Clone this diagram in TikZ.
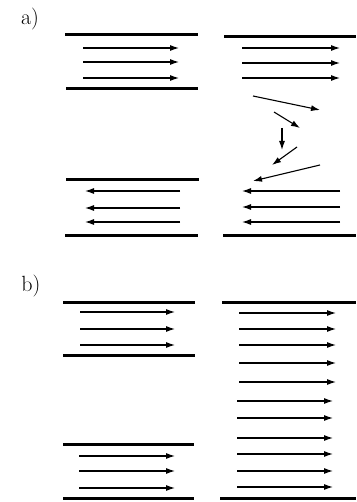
\documentclass[tikz,border=0pt]{standalone}
\usepackage{fontspec}
\usetikzlibrary{arrows.meta}
\begin{document}
\begin{tikzpicture}[x=1pt,y=-1pt,
  plate/.style={line width=3pt},
  flow/.style={line width=1.1pt,-{Latex[length=9pt,width=6pt]}},
  lbl/.style={font=\fontsize{22}{26}\selectfont,inner sep=0pt}]
\useasboundingbox (0,0) rectangle (356,502);
% labels
\node[lbl] (la) at (30,19) {a)};
\node[lbl] (lb) at (31,286) {b)};
% ---- a) left
\draw[plate] (65,35) -- (198,35);
\draw[plate] (66,89) -- (198,89);
\foreach \y in {48,62,78} \draw[flow] (83,\y) -- (179,\y);
\draw[plate] (66,180) -- (199,180);
\draw[plate] (65,235) -- (198,235);
\foreach \y in {191,208,222} \draw[flow] (180,\y) -- (85,\y);
% ---- a) right
\draw[plate] (224,37) -- (356,37);
\foreach \y in {48,63,78} \draw[flow] (242,\y) -- (340,\y);
\draw[flow] (253,96) -- (320,110);
\draw[flow] (274,112) -- (300,128);
\draw[flow] (282,128) -- (282,150);
\draw[flow] (297,147) -- (272,165);
\draw[flow] (320,165) -- (253,181);
\foreach \y in {191,207,222} \draw[flow] (340,\y) -- (242,\y);
\draw[plate] (223,235) -- (356,235);
% ---- b) left
\draw[plate] (63,302) -- (195,302);
\foreach \y in {312,329,345} \draw[flow] (80,\y) -- (175,\y);
\draw[plate] (63,355) -- (195,355);
\draw[plate] (63,444) -- (194,444);
\foreach \y in {456,471,488} \draw[flow] (79,\y) -- (175,\y);
\draw[plate] (63,498) -- (194,498);
% ---- b) right
\draw[plate] (222,302) -- (356,302);
\foreach \y in {313,329,345,363,382} \draw[flow] (239,\y) -- (336,\y);
\foreach \y in {401,418,438,454,471,487} \draw[flow] (237,\y) -- (333,\y);
\draw[plate] (220,498) -- (356,498);
\end{tikzpicture}
\end{document}
